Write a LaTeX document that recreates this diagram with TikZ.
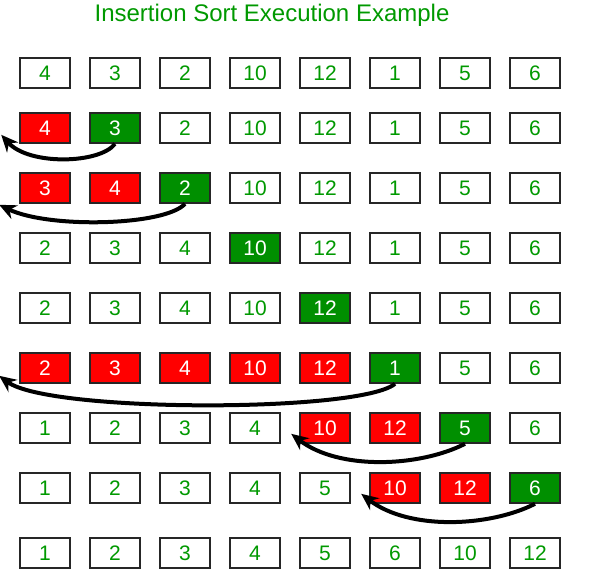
\documentclass[tikz,border=0pt]{standalone}
\usepackage{fontspec}
\setmainfont{Liberation Sans}
\usetikzlibrary{arrows.meta,calc}

\definecolor{sortgreen}{RGB}{0,153,0}
\definecolor{keygreen}{RGB}{0,143,0}

\begin{document}
\begin{tikzpicture}[x=1pt,y=1pt,
    cell/.style={draw=black!85,line width=1.6pt,minimum width=50pt,minimum height=30pt,inner sep=0pt,font=\fontsize{21}{21}\selectfont},
    idle/.style={cell,fill=white,text=sortgreen},
    moved/.style={cell,fill=red,text=white},
    pick/.style={cell,fill=keygreen,text=white},
    mover/.style={-{Stealth[length=17pt,width=15pt]},line width=4pt}]

  \useasboundingbox (0,0) rectangle (612,-569);

  % Title
  \node[text=sortgreen,font=\fontsize{24}{24}\selectfont] (title) at (272,-15) {Insertion Sort Execution Example};

  % Array after each step
  \foreach \row [count=\r] in {
      {4/idle,3/idle,2/idle,10/idle,12/idle,1/idle,5/idle,6/idle},
      {4/moved,3/pick,2/idle,10/idle,12/idle,1/idle,5/idle,6/idle},
      {3/moved,4/moved,2/pick,10/idle,12/idle,1/idle,5/idle,6/idle},
      {2/idle,3/idle,4/idle,10/pick,12/idle,1/idle,5/idle,6/idle},
      {2/idle,3/idle,4/idle,10/idle,12/pick,1/idle,5/idle,6/idle},
      {2/moved,3/moved,4/moved,10/moved,12/moved,1/pick,5/idle,6/idle},
      {1/idle,2/idle,3/idle,4/idle,10/moved,12/moved,5/pick,6/idle},
      {1/idle,2/idle,3/idle,4/idle,5/idle,10/moved,12/moved,6/pick},
      {1/idle,2/idle,3/idle,4/idle,5/idle,6/idle,10/idle,12/idle}}{
    \pgfmathsetmacro\ypos{{73,128,188,248,308,368,428,488,553}[\r-1]}
    \foreach \v/\s [count=\c] in \row
      \node[style=\s] (c-\r-\c) at (45+70*\c-70,-\ypos) {\v};
  }

  % Where each key lands
  \coordinate (tip2) at ($(c-2-1.south west)+(-18,9)$);
  \coordinate (tip3) at ($(c-3-1.south west)+(-20,-1)$);
  \coordinate (tip6) at ($(c-6-1.south west)+(-20,8)$);
  \coordinate (tip7) at ($(c-7-5.south west)+(-8,10)$);
  \coordinate (tip8) at ($(c-8-6.south west)+(-8,10)$);

  % Arrows
  \draw[mover] (c-2-2.south) .. controls +(-15,-20) and +(28,-31) .. (tip2);
  \draw[mover] (c-3-3.south) .. controls +(-20,-22) and +(50,-24) .. (tip3);
  \draw[mover] (c-6-6.south) .. controls +(-35,-29) and +(50,-37) .. (tip6);
  \draw[mover] (c-7-7.south) .. controls +(-45,-23) and +(48,-37) .. (tip7);
  \draw[mover] (c-8-8.south) .. controls +(-45,-23) and +(48,-37) .. (tip8);

\end{tikzpicture}
\end{document}
